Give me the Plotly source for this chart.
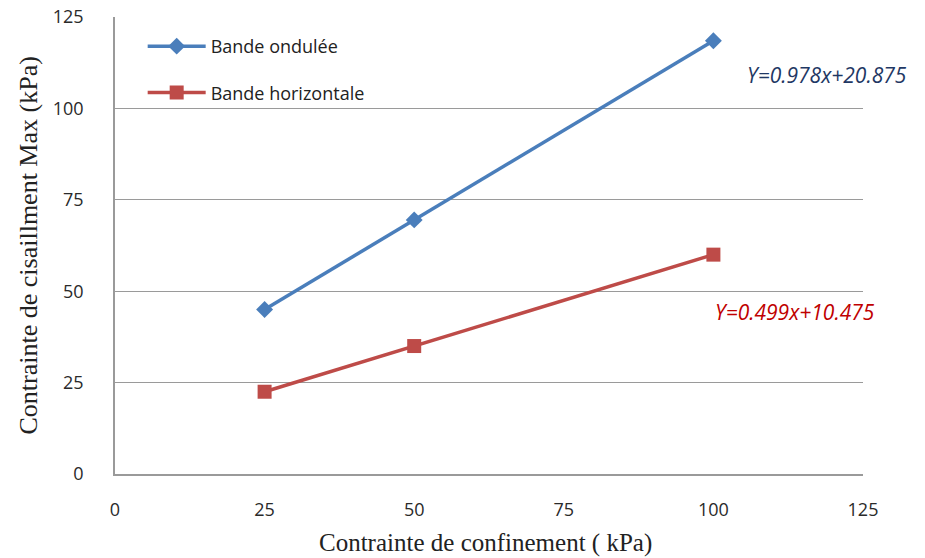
import plotly.graph_objects as go

# Confinement stress (kPa) and maximum shear stress (kPa)
confinement = [25, 50, 100]
bande_ondulee = [45, 69.5, 118.5]
bande_horizontale = [22.5, 35, 60]

x_ticks = [0, 25, 50, 75, 100, 125]
y_ticks = [0, 25, 50, 75, 100, 125]

eq_ondulee = "Y=0.978x+20.875"
eq_horizontale = "Y=0.499x+10.475"

blue = "#4a7ebb"
red = "#be4b48"

fig = go.Figure()
fig.add_trace(go.Scatter(
    x=confinement, y=bande_ondulee, name="Bande ondulée",
    mode="lines+markers", legendgroup="a",
    line=dict(color=blue, width=3.5),
    marker=dict(symbol="diamond", size=13, color=blue),
))
fig.add_trace(go.Scatter(
    x=confinement, y=bande_horizontale, name="Bande horizontale",
    mode="lines+markers", legendgroup="b",
    line=dict(color=red, width=3.5),
    marker=dict(symbol="square", size=14, color=red),
))

sans = "Open Sans, Liberation Sans, sans-serif"
serif = "Liberation Serif, DejaVu Serif, serif"

fig.update_layout(
    width=925, height=558,
    margin=dict(l=115, r=62, t=17, b=84),
    paper_bgcolor="white", plot_bgcolor="white",
    showlegend=True,
    legend=dict(
        x=0.037, y=0.976, xanchor="left", yanchor="top",
        bgcolor="rgba(0,0,0,0)",
        font=dict(family=sans, size=18, color="#222"),
        traceorder="grouped", tracegroupgap=20, itemwidth=58,
    ),
    xaxis=dict(
        range=[0, 125], tickvals=x_ticks, showgrid=False, zeroline=False,
        showline=True, linecolor="#9a9a9a", linewidth=1.5, mirror=False,
        ticks="", ticklabelstandoff=19, automargin=False,
        tickfont=dict(family=sans, size=18, color="#2a2a2a"),
    ),
    yaxis=dict(
        range=[0, 125], tickvals=y_ticks, showgrid=True, gridcolor="#9a9a9a",
        gridwidth=1.2, zeroline=False,
        showline=True, linecolor="#9a9a9a", linewidth=1.5,
        ticks="", ticklabelstandoff=26, automargin=False,
        tickfont=dict(family=sans, size=18, color="#2a2a2a"),
    ),
    annotations=[
        dict(text="Contrainte de confinement ( kPa)", xref="paper", yref="paper",
             x=0.495, y=0, yshift=-69, xanchor="center", yanchor="middle",
             showarrow=False, font=dict(family=serif, size=25, color="#222")),
        dict(text="Contrainte de cisaillment Max (kPa)", xref="paper", yref="paper",
             x=0, y=0.5, xshift=-87, textangle=-90, xanchor="center", yanchor="middle",
             showarrow=False, font=dict(family=serif, size=26, color="#222")),
        dict(text="<i>" + eq_ondulee + "</i>", xref="paper", yref="paper",
             x=0.952, y=0.873, xanchor="center", yanchor="middle", showarrow=False,
             font=dict(family=sans, size=21, color="#1f3864")),
        dict(text="<i>" + eq_horizontale + "</i>", xref="paper", yref="paper",
             x=0.909, y=0.354, xanchor="center", yanchor="middle", showarrow=False,
             font=dict(family=sans, size=21, color="#c00000")),
    ],
)

fig.write_html("out.html")
